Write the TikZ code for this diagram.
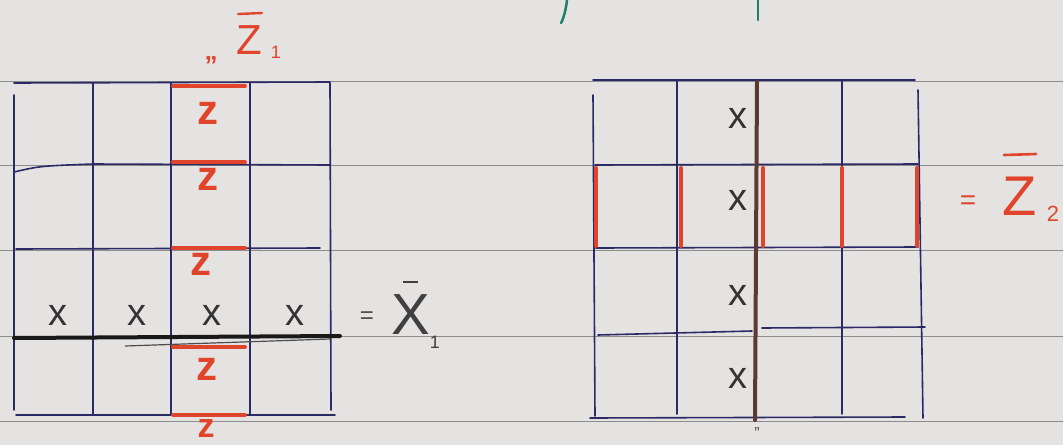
\documentclass[tikz,border=0pt]{standalone}
\usepackage{fontspec}
\setmainfont{Liberation Sans}
\begin{document}
\begin{tikzpicture}[x=1pt,y=-1pt,
  paperline/.style={draw=black!45, line width=0.6pt},
  gridline/.style={draw=gridblue, line width=1.6pt, line cap=round},
  thickblack/.style={draw=black!90, line width=4pt, line cap=round},
  brownline/.style={draw=brownish, line width=4pt, line cap=round},
  redseg/.style={draw=redink, line width=4pt, line cap=round},
  redtxt/.style={text=redink, font=\fontsize{42}{42}\selectfont\bfseries, inner sep=0pt},
  xmark/.style={text=black!80, font=\fontsize{38}{38}\selectfont, inner sep=0pt},
  greenink/.style={draw=greenish, line width=2.5pt, line cap=round}
]
\definecolor{paper}{HTML}{E5E3E2}
\definecolor{gridblue}{HTML}{2B2A66}
\definecolor{redink}{HTML}{E0452B}
\definecolor{brownish}{HTML}{5B3A32}
\definecolor{greenish}{HTML}{1E7F6A}
\fill[paper] (0,0) rectangle (1063,445);
\useasboundingbox (0,0) rectangle (1063,445);
% ruled paper lines
\foreach \y in {81,165,250,336,421} \draw[paperline] (0,\y) -- (1063,\y);
% partial green text at top
\draw[greenink] (567,0) .. controls (566,10) and (563,20) .. (561,23);
\draw[greenink] (758,0) -- (758,20);
% ---------- left grid ----------
\draw[gridline] (14,95) -- (14,410);
\foreach \x in {93,171,250} \draw[gridline] (\x,83) -- (\x,415);
\draw[gridline] (330,83) -- (331,410);
\draw[gridline] (14,83) -- (330,82);
\draw[gridline] (14,172) .. controls (40,166) .. (93,164) -- (330,165);
\draw[gridline] (16,249) -- (320,248);
\draw[gridline] (16,415) -- (335,415);
\draw[thickblack] (14,338) -- (340,336);
\draw[black!70, line width=1.2pt] (125,346) -- (330,339);
% red segments column 3
\foreach \y in {86,162,248,347,415} \draw[redseg] (173,\y) -- (245,\y);
\node[redtxt] (zA) at (208,113) {z};
\node[redtxt] (zB) at (208,179) {z};
\node[redtxt] (zC) at (201,264) {z};
\node[redtxt] (zD) at (207,369) {z};
\node[redtxt, font=\fontsize{34}{34}\selectfont\bfseries] (zE) at (206,429) {z};
% top label
\node[text=redink, font=\fontsize{26}{26}\selectfont\bfseries, inner sep=0pt] (ticks1) at (211,66) {''};
\node[text=redink, font=\fontsize{42}{42}\selectfont, inner sep=0pt] (Z1) at (249,40) {Z};
\draw[redink, line width=2.4pt, line cap=round] (238,14) -- (262,13);
\node[text=redink, font=\fontsize{18}{18}\selectfont, inner sep=0pt] (Z1sub) at (276,52) {1};
% x marks left
\foreach \x/\n in {58/a,137/b,212/c,295/d} \node[xmark] (lx\n) at (\x,315) {x};
% = X1
\node[text=black!70, font=\fontsize{24}{24}\selectfont, inner sep=0pt] (eqX) at (367,318) {=};
\node[text=black!75, font=\fontsize{58}{58}\selectfont, inner sep=0pt] (X1) at (411,315) {X};
\draw[black!75, line width=1.8pt] (403,282) -- (418,282);
\node[text=black!75, font=\fontsize{18}{18}\selectfont, inner sep=0pt] (X1sub) at (435,342) {1};
% ---------- right grid ----------
\draw[gridline] (593,95) -- (595,416);
\foreach \x in {677,842} \draw[gridline] (\x,80) -- (\x,414);
\draw[gridline] (918,90) -- (923,418);
\draw[gridline] (593,80) -- (915,80);
\draw[gridline] (595,165) -- (918,164);
\draw[gridline] (598,335) -- (752,331) (762,328) -- (925,327);
\draw[gridline] (596,248) -- (918,247);
\draw[gridline] (590,418) -- (905,417);
\draw[brownline] (757,82) -- (755,420);
% red vertical segments in second row
\foreach \x in {596,681,763,842,917} \draw[redseg] (\x,168) -- (\x,246);
% x marks right
\foreach \y/\n in {118/a,200/b,295/c,378/d} \node[xmark] (rx\n) at (738,\y) {x};
\node[text=black!70, font=\fontsize{16}{16}\selectfont, inner sep=0pt] (ticks2) at (757,433) {''};
% = Z2
\node[text=redink, font=\fontsize{28}{28}\selectfont, inner sep=0pt] (eqZ) at (968,203) {=};
\node[text=redink, font=\fontsize{56}{56}\selectfont, inner sep=0pt] (Z2) at (1020,196) {Z};
\draw[redink, line width=2.6pt, line cap=round] (1004,155) -- (1036,154);
\node[text=redink, font=\fontsize{22}{22}\selectfont, inner sep=0pt] (Z2sub) at (1053,214) {2};
\end{tikzpicture}
\end{document}
